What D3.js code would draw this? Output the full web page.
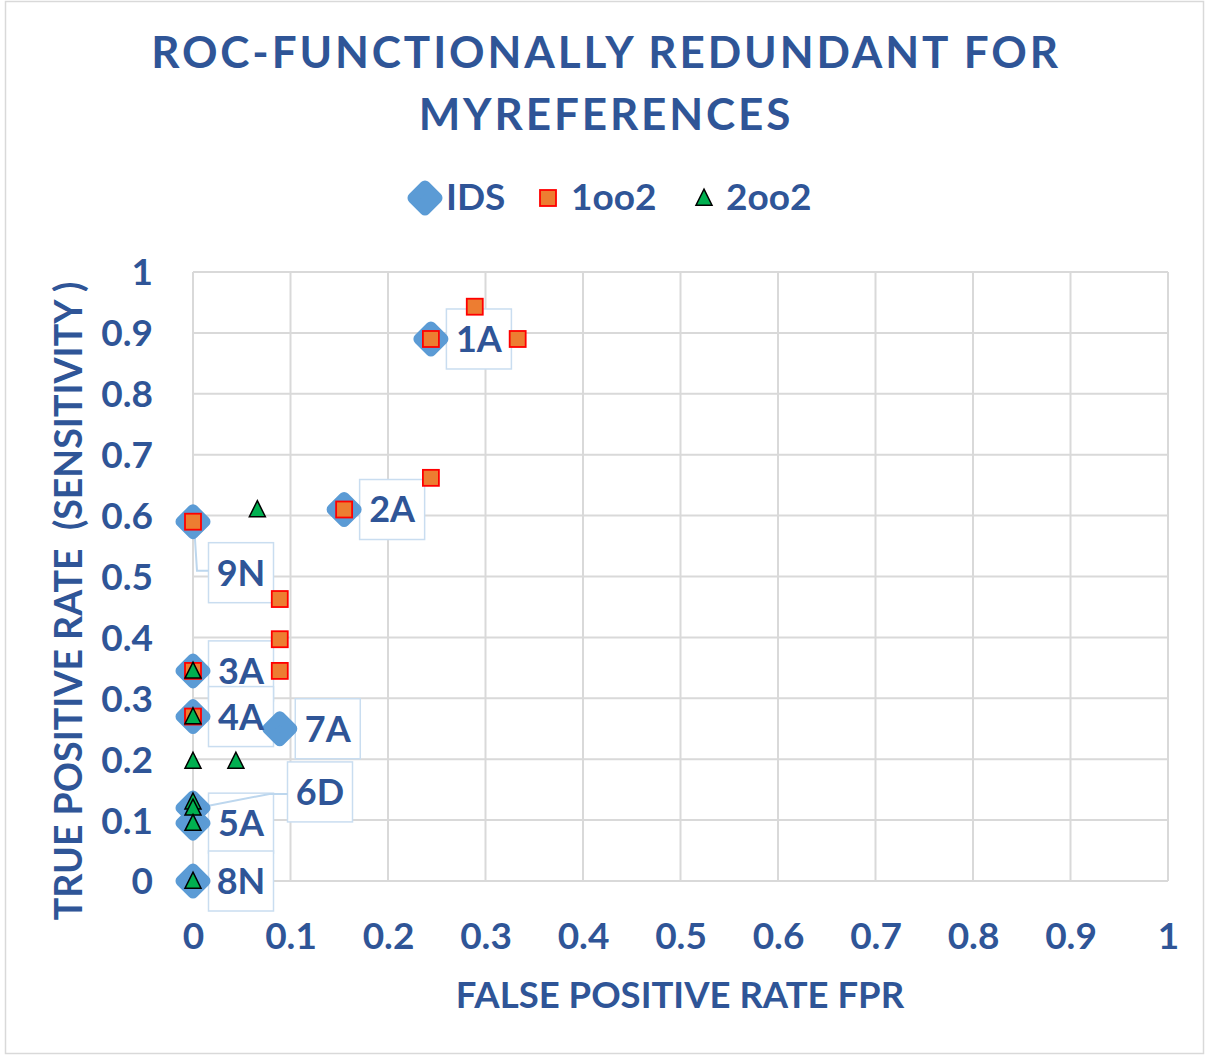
<!DOCTYPE html>
<html><head><meta charset="utf-8">
<script src="https://cdn.jsdelivr.net/npm/d3@7"></script>
<style>html,body{margin:0;padding:0;background:#fff;}svg{display:block;}</style>
</head><body>
<svg id="chart" width="1207" height="1057"></svg>
<script>
// ---- data ----
const titleLines = ["ROC-FUNCTIONALLY REDUNDANT FOR", "MYREFERENCES"];
const seriesNames = ["IDS", "1oo2", "2oo2"];
const xTicks = [0, 0.1, 0.2, 0.3, 0.4, 0.5, 0.6, 0.7, 0.8, 0.9, 1];
const yTicks = [0, 0.1, 0.2, 0.3, 0.4, 0.5, 0.6, 0.7, 0.8, 0.9, 1];
const xTitle = "FALSE POSITIVE RATE FPR";
const yTitle = "TRUE POSITIVE RATE  (SENSITIVITY )";

const idsX = [0.244, 0.155, 0, 0, 0, 0, 0.089, 0, 0];
const idsY = [0.89, 0.61, 0.345, 0.27, 0.095, 0.12, 0.25, 0, 0.59];
const idsLabels = ["1A", "2A", "3A", "4A", "5A", "6D", "7A", "8N", "9N"];

const oneX = [0.289, 0.333, 0.244, 0.244, 0.155, 0, 0.089, 0.089, 0.089, 0, 0];
const oneY = [0.943, 0.89, 0.89, 0.662, 0.61, 0.59, 0.463, 0.397, 0.345, 0.345, 0.27];

const twoX = [0.066, 0, 0, 0, 0.044, 0, 0, 0, 0];
const twoY = [0.61, 0.345, 0.27, 0.197, 0.197, 0.13, 0.12, 0.095, 0];

// ---- layout ----
const W = 1207, H = 1057;
const m = {left: 193, right: 1168, top: 272, bottom: 881};
const textColor = "#2F5597";
const font = "Lato, 'Open Sans', sans-serif";
const labelOffsets = {"9N": [48, 51, true], "6D": [127, -16, true]};
const defaultOffset = [48, 0, false];

const svg = d3.select("#chart");
svg.append("rect").attr("x", 5.5).attr("y", 1.5).attr("width", W - 9).attr("height", H - 5)
  .attr("fill", "#fff").attr("stroke", "#D9D9D9").attr("stroke-width", 1.5);

const x = d3.scaleLinear().domain([0, 1]).range([m.left, m.right]);
const y = d3.scaleLinear().domain([0, 1]).range([m.bottom, m.top]);

// title
titleLines.forEach((t, i) => {
  svg.append("text").attr("x", 606).attr("y", i === 0 ? 68 : 130)
    .attr("text-anchor", "middle").attr("fill", textColor)
    .attr("font-family", font).attr("font-weight", 700).attr("font-size", 44)
    .attr("letter-spacing", 2.9).text(t);
});

// grid
const g = svg.append("g");
g.selectAll(".gx").data(xTicks).join("line")
  .attr("x1", d => x(d)).attr("x2", d => x(d)).attr("y1", m.top).attr("y2", m.bottom)
  .attr("stroke", "#D9D9D9").attr("stroke-width", 2);
g.selectAll(".gy").data(yTicks).join("line")
  .attr("y1", d => y(d)).attr("y2", d => y(d)).attr("x1", m.left).attr("x2", m.right)
  .attr("stroke", "#D9D9D9").attr("stroke-width", 2);

// axes via d3 axis
const xAxis = svg.append("g").attr("transform", `translate(0,${m.bottom})`)
  .call(d3.axisBottom(x).tickValues(xTicks).tickFormat(d3.format("~g")).tickSize(0).tickPadding(0));
xAxis.select(".domain").remove();
xAxis.selectAll("text").attr("y", 68).attr("dy", null).attr("fill", textColor)
  .attr("font-family", font).attr("font-weight", 700).attr("font-size", 37);

const yAxis = svg.append("g").attr("transform", `translate(${m.left},0)`)
  .call(d3.axisLeft(y).tickValues(yTicks).tickFormat(d3.format("~g")).tickSize(0).tickPadding(0));
yAxis.select(".domain").remove();
yAxis.selectAll("text").attr("x", -40).attr("dy", "0.35em").attr("fill", textColor)
  .attr("font-family", font).attr("font-weight", 700).attr("font-size", 37);

// axis titles
svg.append("text").attr("x", 680).attr("y", 1008).attr("text-anchor", "middle")
  .attr("fill", textColor).attr("font-family", font).attr("font-weight", 700).attr("font-size", 36.5)
  .text(xTitle);
svg.append("text").attr("transform", "translate(82,601) rotate(-90)").attr("text-anchor", "middle")
  .style("white-space", "pre")
  .attr("fill", textColor).attr("font-family", font).attr("font-weight", 700).attr("font-size", 37.5)
  .text(yTitle);

// data label boxes
const ids = idsX.map((v, i) => ({x: v, y: idsY[i], label: idsLabels[i]}));
const labG = svg.append("g");
const boxW = 65, boxH = 60;
ids.forEach(d => {
  const off = labelOffsets[d.label] || defaultOffset;
  const px = x(d.x), py = y(d.y);
  const cx = px + off[0], cy = py + off[1];
  d.cx = cx; d.cy = cy;
  labG.append("rect").attr("x", cx - boxW / 2).attr("y", cy - boxH / 2)
    .attr("width", boxW).attr("height", boxH).attr("fill", "#fff")
    .attr("stroke", "#C9DDF0").attr("stroke-width", 1.5);
  if (off[2]) {
    const bx = cx - boxW / 2;
    const pts = d.label === "9N"
      ? [[px + 1, py + 2], [px + 4, cy - 2], [bx, cy - 2]]
      : [[px + 4, py], [bx - 18, cy + 2], [bx, cy + 2]];
    labG.append("path").attr("d", d3.line()(pts)).attr("fill", "none")
      .attr("stroke", "#BDD7EE").attr("stroke-width", 2);
  }
});

// markers
const diamond = (cx, cy, r) => `M${cx},${cy - r}L${cx + r},${cy}L${cx},${cy + r}L${cx - r},${cy}Z`;
const tri = (cx, cy, s) => `M${cx},${cy - s * 0.55}L${cx + s / 2},${cy + s * 0.45}L${cx - s / 2},${cy + s * 0.45}Z`;

svg.append("g").selectAll("path").data(ids).join("path")
  .attr("d", d => diamond(x(d.x), y(d.y), 12))
  .attr("fill", "#5B9BD5").attr("stroke", "#5B9BD5").attr("stroke-width", 11).attr("stroke-linejoin", "round");

const ones = oneX.map((v, i) => ({x: v, y: oneY[i]}));
svg.append("g").selectAll("rect").data(ones).join("rect")
  .attr("x", d => x(d.x) - 8).attr("y", d => y(d.y) - 8).attr("width", 16).attr("height", 16)
  .attr("fill", "#ED7D31").attr("stroke", "#FF0000").attr("stroke-width", 1.8);

const twos = twoX.map((v, i) => ({x: v, y: twoY[i]}));
svg.append("g").selectAll("path").data(twos).join("path")
  .attr("d", d => tri(x(d.x), y(d.y), 16))
  .attr("fill", "#00B050").attr("stroke", "#000").attr("stroke-width", 1.5).attr("stroke-linejoin", "miter");

// label text
svg.append("g").selectAll("text").data(ids).join("text")
  .attr("x", d => d.cx).attr("y", d => d.cy).attr("dy", "0.36em").attr("text-anchor", "middle")
  .attr("fill", textColor).attr("font-family", font).attr("font-weight", 700).attr("font-size", 36)
  .text(d => d.label);

// legend
const leg = svg.append("g");
const legItems = [
  {name: seriesNames[0], mx: 425, tx: 446},
  {name: seriesNames[1], mx: 548, tx: 571},
  {name: seriesNames[2], mx: 704, tx: 726}
];
leg.append("path").attr("d", diamond(legItems[0].mx, 198, 12))
  .attr("fill", "#5B9BD5").attr("stroke", "#5B9BD5").attr("stroke-width", 11).attr("stroke-linejoin", "round");
leg.append("rect").attr("x", legItems[1].mx - 8).attr("y", 198 - 8).attr("width", 16).attr("height", 16)
  .attr("fill", "#ED7D31").attr("stroke", "#FF0000").attr("stroke-width", 1.8);
leg.append("path").attr("d", tri(legItems[2].mx, 198, 16))
  .attr("fill", "#00B050").attr("stroke", "#000").attr("stroke-width", 1.5);
leg.selectAll("text").data(legItems).join("text")
  .attr("x", d => d.tx).attr("y", 210).attr("fill", textColor)
  .attr("font-family", font).attr("font-weight", 700).attr("font-size", 37)
  .text(d => d.name);
</script>
</body></html>
